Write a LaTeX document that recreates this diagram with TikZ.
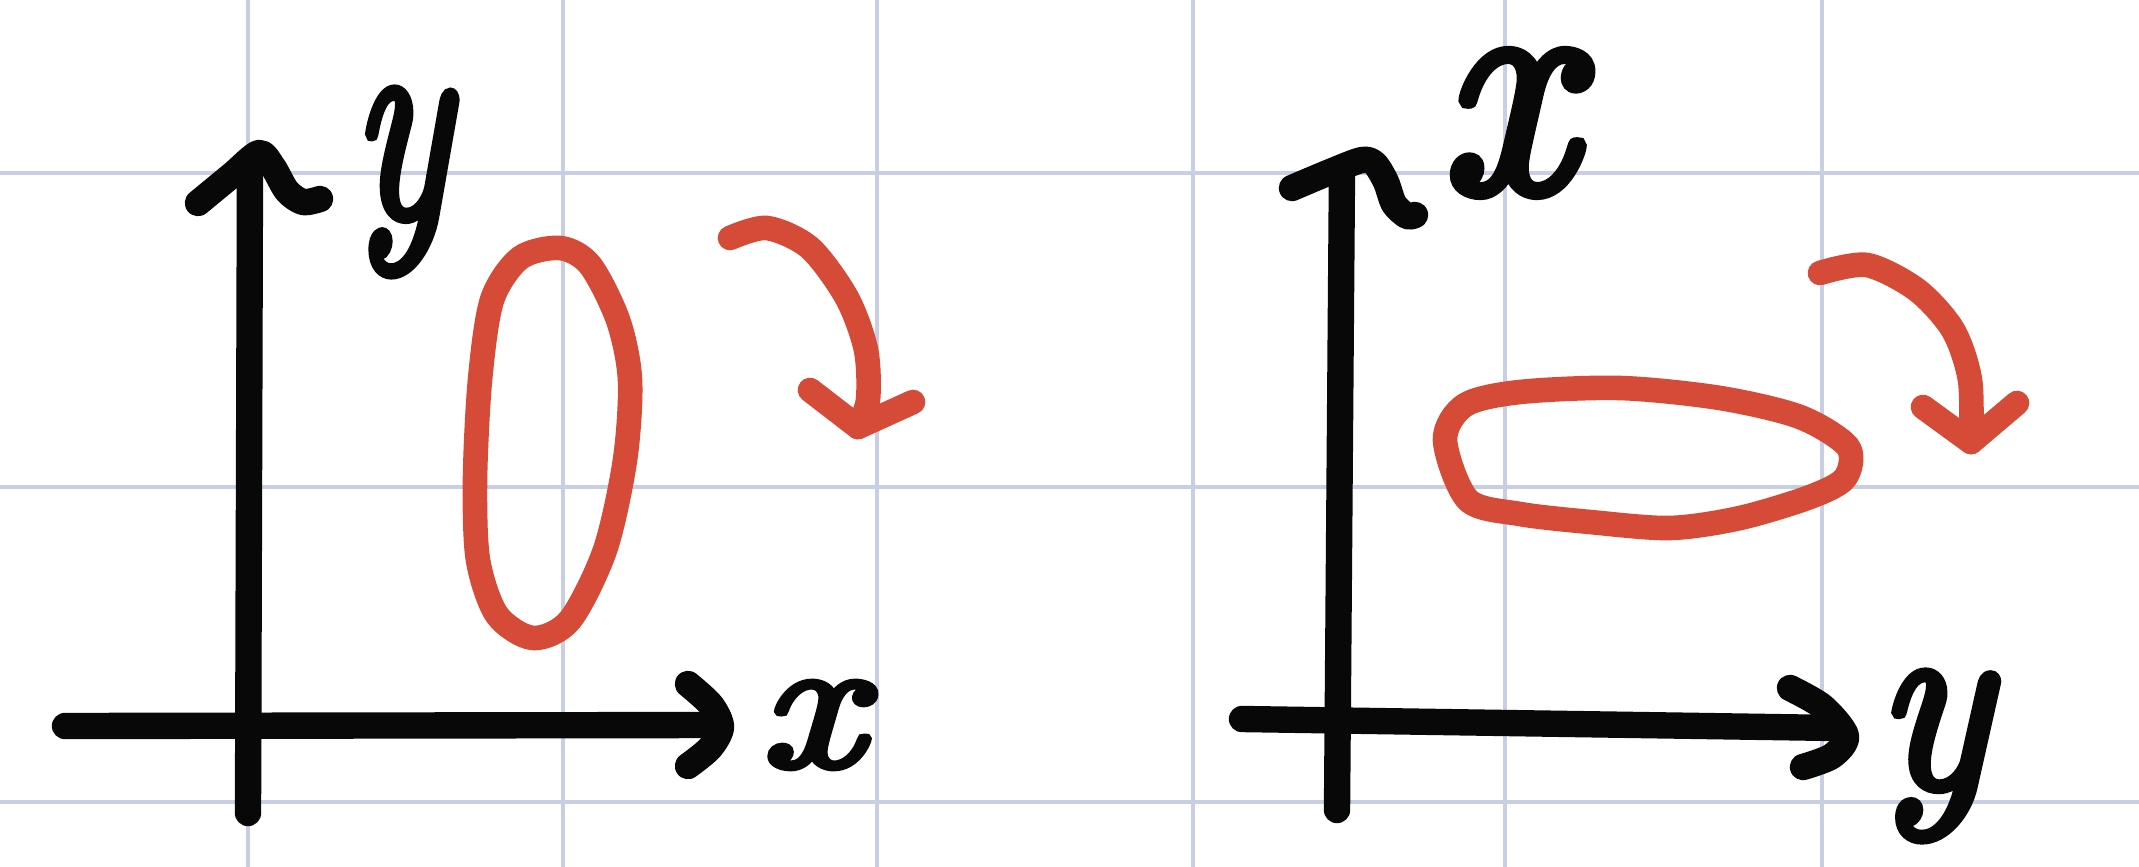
\documentclass[tikz,border=0pt]{standalone}
\usepackage{graphicx}
\usepackage{fontspec}
\newfontfamily\handfont[FakeBold=3.5]{Latin Modern Roman}
\definecolor{gridc}{RGB}{200,206,228}
\definecolor{ink}{RGB}{8,8,8}
\definecolor{pen}{RGB}{214,74,56}
\tikzset{
  gridline/.style={draw=gridc, line width=1.1pt},
  axisline/.style={draw=ink, line width=7.5pt, line cap=round, line join=round},
  redline/.style={draw=pen, line width=7pt, line cap=round, line join=round},
  lbl/.style={inner sep=5pt, outer sep=0pt, text=ink, font=\handfont\itshape},
}
\begin{document}
\begin{tikzpicture}[x=0.01cm,y=-0.01cm]
\fill[white] (0,0) rectangle (2139,867);
\useasboundingbox (0,0) rectangle (2139,867);
% grid paper
\foreach \gx in {248,563,877,1193,1505,1822}
  \draw[gridline] (\gx,0) -- (\gx,867);
\foreach \gy in {173,487,802}
  \draw[gridline] (0,\gy) -- (2139,\gy);

% ---------- left system ----------
\coordinate (Lvb) at (248,813);
\coordinate (Lvt) at (250,165);
\coordinate (Lhl) at (65,726);
\coordinate (Lhr) at (716,725);
\draw[axisline] (Lvb) -- (Lvt);
\draw[axisline] (Lhl) -- (Lhr);
% hand-drawn arrow heads
\draw[axisline] plot[smooth] coordinates {(198,203) (232,175) (259,153) (273,167) (287,191) (303,202) (320,199)};
\draw[axisline] plot[smooth] coordinates {(688,684) (711,705) (721,727) (710,748) (688,766)};
% labels
\node[lbl] (Ly) at (401,182) {\resizebox*{0.98cm}{1.85cm}{y}};
\node[lbl] (Lx) at (811,725) {\resizebox*{1.03cm}{0.86cm}{x}};
% red ellipse (tall)
\draw[redline] plot[smooth cycle] coordinates {(560,248) (520,258) (492,300) (480,380) (475,480) (478,560) (497,615) (533,638) (570,620) (605,550) (625,460) (630,380) (618,320) (590,265)};
% red turning arrow
\coordinate (La2) at (858,427);
\draw[redline] plot[smooth] coordinates {(730,238) (767,228) (810,248) (847,298) (866,350) (868,400) (858,427)};
\draw[redline] (810,390) -- (La2) -- (913,402);

% ---------- right system ----------
\coordinate (Rvb) at (1337,810);
\coordinate (Rvt) at (1342,170);
\coordinate (Rhl) at (1242,719);
\coordinate (Rhr) at (1835,728);
\draw[axisline] (Rvb) -- (Rvt);
\draw[axisline] (Rhl) -- (Rhr);
\draw[axisline] plot[smooth] coordinates {(1292,188) (1330,172) (1362,160) (1375,164) (1386,182) (1394,204) (1407,216) (1415,215)};
\draw[axisline] plot[smooth] coordinates {(1790,688) (1823,707) (1846,736) (1832,756) (1803,767)};
% labels
\node[lbl] (Rx) at (1507,123) {\resizebox*{1.35cm}{1.43cm}{x}};
\node[lbl] (Ry) at (1933,756) {\resizebox*{1.14cm}{1.68cm}{y}};
% red ellipse (wide)
\draw[redline] plot[smooth cycle] coordinates {(1445,440) (1465,405) (1520,392) (1620,388) (1720,398) (1800,417) (1848,447) (1845,478) (1810,497) (1740,518) (1670,528) (1590,522) (1520,514) (1468,500)};
% red turning arrow
\coordinate (Ra2) at (1971,442);
\draw[redline] plot[smooth] coordinates {(1820,273) (1867,265) (1917,290) (1953,330) (1970,380) (1971,442)};
\draw[redline] (1923,407) -- (Ra2) -- (2017,403);
\end{tikzpicture}
\end{document}
